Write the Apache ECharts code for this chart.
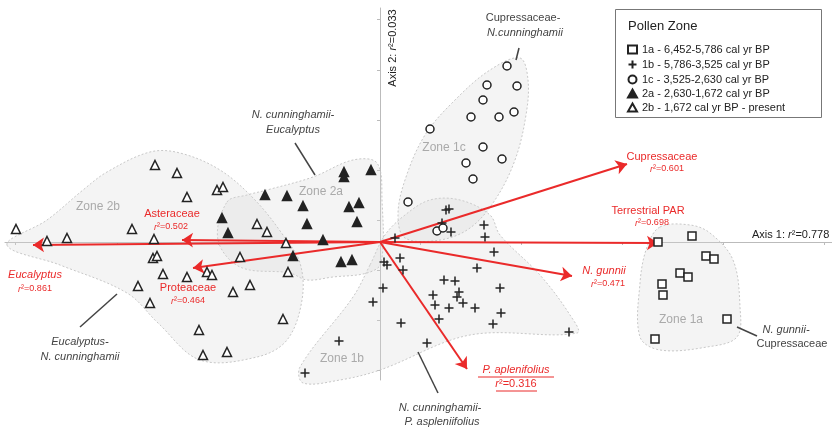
<!DOCTYPE html>
<html>
<head>
<meta charset="utf-8">
<script src="https://cdn.jsdelivr.net/npm/echarts@6/dist/echarts.min.js"></script>
<style>
  html, body { margin: 0; padding: 0; background: #fff; }
  #main { width: 832px; height: 435px; }
</style>
</head>
<body>
<div id="main"></div>
<script>
// ordination scores per pollen zone (axis 1, axis 2)
var zone1a = [[2.78,0],[3.12,0.06],[3.26,-0.14],[3.34,-0.17],[3.00,-0.31],[3.08,-0.35],[2.82,-0.42],[2.83,-0.53],[3.47,-0.77],[2.75,-0.97]];
var zone1b = [[0.66,0.32],[0.69,0.33],[0.62,0.19],[0.71,0.10],[1.04,0.17],[1.05,0.05],[0.15,0.04],[1.14,-0.10],[0.04,-0.20],[0.07,-0.23],
  [0.20,-0.16],[0.23,-0.28],[0.97,-0.26],[0.64,-0.38],[0.75,-0.39],[0.03,-0.46],[-0.07,-0.60],[1.20,-0.46],[0.53,-0.53],[0.55,-0.63],
  [0.79,-0.50],[0.77,-0.55],[0.83,-0.61],[0.69,-0.66],[0.95,-0.66],[1.21,-0.71],[0.59,-0.77],[0.21,-0.81],[1.13,-0.82],[1.89,-0.90],
  [0.47,-1.01],[-0.41,-0.99],[-0.75,-1.31]];
var zone1c = [[1.27,1.76],[1.07,1.57],[1.37,1.56],[1.03,1.42],[0.91,1.25],[1.19,1.25],[1.34,1.30],[0.50,1.13],[1.03,0.95],[0.86,0.79],
  [1.22,0.83],[0.93,0.63],[0.28,0.40],[0.57,0.11],[0.63,0.14]];
var zone2a = [[-1.15,0.47],[-0.93,0.46],[-0.77,0.36],[-0.36,0.70],[-0.36,0.65],[-0.09,0.72],[-0.31,0.35],[-0.21,0.39],[-1.58,0.24],[-0.73,0.18],
  [-0.23,0.20],[-0.57,0.02],[-0.87,-0.14],[-0.39,-0.20],[-0.28,-0.18],[-1.52,0.09]];
var zone2b = [[-2.25,0.77],[-2.03,0.69],[-1.63,0.52],[-1.57,0.55],[-1.93,0.45],[-3.64,0.13],[-3.33,0.01],[-3.13,0.04],[-2.48,0.13],[-2.26,0.03],
  [-1.23,0.18],[-1.13,0.10],[-2.27,-0.16],[-2.23,-0.14],[-1.40,-0.15],[-2.17,-0.32],[-1.93,-0.35],[-1.73,-0.30],[-1.68,-0.33],[-2.42,-0.44],
  [-2.30,-0.61],[-1.47,-0.50],[-1.30,-0.43],[-0.92,-0.30],[-0.94,-0.01],[-0.97,-0.77],[-1.81,-0.88],[-1.77,-1.13],[-1.53,-1.10]];

var zoneNames = ['1a - 6,452-5,786 cal yr BP', '1b - 5,786-3,525 cal yr BP', '1c - 3,525-2,630 cal yr BP',
  '2a - 2,630-1,672 cal yr BP', '2b - 1,672 cal yr BP - present'];

// zone envelopes
var hull1a = [[2.80,0.15],[3.10,0.17],[3.30,0.09],[3.53,-0.18],[3.60,-0.65],[3.57,-0.95],[3.27,-1.05],[2.80,-1.08],[2.60,-0.95],[2.60,-0.41],[2.67,-0.05]];
var hull1b = [[-0.10,-0.23],[-0.27,-0.55],[-0.80,-1.25],[-0.77,-1.41],[-0.40,-1.38],[0,-1.28],[0.90,-0.93],[1.97,-0.91],[1.90,-0.73],[1.60,-0.33],
  [1.20,0.07],[1.10,0.27],[0.80,0.42],[0.50,0.42],[0.25,0.27],[0.05,0.07]];
var hull1c = [[1.40,1.84],[1.48,1.62],[1.46,1.27],[1.35,0.82],[1.15,0.42],[0.90,0.14],[0.60,0.02],[0.25,0.04],[0.18,0.27],[0.25,0.62],[0.45,1.07],[0.75,1.42],[1.10,1.72]];
var hull2a = [[-1.53,0.40],[-1.33,0.47],[-1.13,0.52],[-0.67,0.65],[-0.27,0.82],[-0.03,0.79],[0.02,0.42],[0.01,-0.21],[-0.13,-0.31],[-0.47,-0.35],
  [-0.73,-0.38],[-0.90,-0.31],[-1.40,-0.25],[-1.62,0.02]];
var hull2b = [[-3.73,-0.03],[-3.20,-0.23],[-2.53,-0.51],[-2.22,-0.81],[-1.80,-1.18],[-1.23,-1.15],[-0.93,-0.98],[-0.78,-0.58],[-0.80,-0.21],[-0.97,0.07],
  [-1.25,0.42],[-1.60,0.72],[-2.00,0.89],[-2.30,0.90],[-2.73,0.70],[-2.97,0.52],[-3.33,0.22]];
var hullLabels = ['Zone 1a', 'Zone 1b', 'Zone 1c', 'Zone 2a', 'Zone 2b'];

// biplot vectors
var vectorNames = ['Cupressaceae', 'Terrestrial PAR', 'N. gunnii', 'P. aplenifolius', 'Asteraceae', 'Proteaceae', 'Eucalyptus'];
var vectorEnds = [[2.47,0.78],[2.78,-0.01],[1.92,-0.34],[0.87,-1.27],[-1.98,0.02],[-1.87,-0.26],[-3.47,-0.03]];
var vectorR2 = ['0.601', '0.698', '0.471', '0.316', '0.502', '0.464', '0.861'];

var xTicks = [-3.65,-2.63,-1.62,-0.61,0.40,1.41,2.42,3.43,4.44];
var yTicks = [2.23,1.72,1.22,0.72,0.22,-0.28,-0.78,-1.28];

var RED = '#ea2a2a';
var INK = '#222';
var FONT = '"Liberation Sans", Arial, sans-serif';

var chart = echarts.init(document.getElementById('main'));

var hulls = [hull1a, hull1b, hull1c, hull2a, hull2b];
var crossPath = 'path://M5,0V10M0,5H10';

function pointSeries(name, data, symbol, size, fill) {
  return {
    name: name, type: 'scatter', data: data, symbol: symbol, symbolSize: size,
    z: 5,
    itemStyle: { color: fill, borderColor: INK, borderWidth: 1.5, opacity: 1 },
    emphasis: { disabled: true }
  };
}

function r2(v) { return '{i|r}²=' + v; }

function txt(x, y, text, opt) {
  opt = opt || {};
  return {
    type: 'text', x: x, y: y, z: 20, rotation: opt.rot || 0,
    style: {
      text: text, fill: opt.color || '#333', fontSize: opt.size || 11, fontFamily: FONT,
      fontStyle: opt.italic ? 'italic' : 'normal', fontWeight: opt.bold ? 'bold' : 'normal',
      align: opt.align || 'center', verticalAlign: 'middle',
      rich: { i: { fontStyle: 'italic', fontSize: opt.size || 11, fontFamily: FONT, fill: opt.color || '#333' } }
    }
  };
}
function seg(x1, y1, x2, y2, color, w) {
  return { type: 'line', z: 20, shape: { x1: x1, y1: y1, x2: x2, y2: y2 }, style: { stroke: color || '#333', lineWidth: w || 1.5 } };
}

var graphics = [
  // legend box
  { type: 'rect', z: 15, shape: { x: 615.5, y: 9.5, width: 206, height: 108 }, style: { fill: '#fff', stroke: '#777', lineWidth: 1 } },
  txt(628, 26, 'Pollen Zone', { size: 13, align: 'left', color: '#222' }),

  // axis titles
  txt(752, 235, 'Axis 1: {i|r}²=0.778', { align: 'left', color: '#222' }),
  txt(393, 48, 'Axis 2: {i|r}²=0.033', { rot: Math.PI / 2, color: '#222' }),

  // zone labels
  txt(681, 320, hullLabels[0], { size: 12, color: '#aaa' }),
  txt(342, 359, hullLabels[1], { size: 12, color: '#aaa' }),
  txt(444, 148, hullLabels[2], { size: 12, color: '#aaa' }),
  txt(321, 192, hullLabels[3], { size: 12, color: '#aaa' }),
  txt(98, 207, hullLabels[4], { size: 12, color: '#aaa' }),

  // vector labels
  txt(662, 157, vectorNames[0], { color: RED }),
  txt(667, 169, r2(vectorR2[0]), { color: RED, size: 9 }),
  txt(648, 211, vectorNames[1], { color: RED }),
  txt(652, 223, r2(vectorR2[1]), { color: RED, size: 9 }),
  txt(604, 271, vectorNames[2], { color: RED, italic: true }),
  txt(608, 284, r2(vectorR2[2]), { color: RED, size: 9 }),
  txt(516, 370, vectorNames[3], { color: RED, italic: true }),
  txt(516, 384, r2(vectorR2[3]), { color: RED }),
  seg(478, 377, 554, 377, RED, 1),
  seg(496, 391, 537, 391, RED, 1),
  txt(172, 214, vectorNames[4], { color: RED }),
  txt(171, 227, r2(vectorR2[4]), { color: RED, size: 9 }),
  txt(188, 288, vectorNames[5], { color: RED }),
  txt(188, 301, r2(vectorR2[5]), { color: RED, size: 9 }),
  txt(35, 275, vectorNames[6], { color: RED, italic: true }),
  txt(35, 289, r2(vectorR2[6]), { color: RED, size: 9 }),

  // assemblage annotations
  txt(293, 115, 'N. cunninghamii-', { italic: true, color: '#444' }),
  txt(293, 130, 'Eucalyptus', { italic: true, color: '#444' }),
  seg(295, 143, 315, 175, '#444'),
  txt(523, 18, 'Cupressaceae-', { color: '#444' }),
  txt(525, 33, 'N.cunninghamii', { italic: true, color: '#444' }),
  seg(519, 48, 516, 60, '#444'),
  txt(80, 342, 'Eucalyptus-', { italic: true, color: '#444' }),
  txt(80, 357, 'N. cunninghamii', { italic: true, color: '#444' }),
  seg(80, 327, 117, 294, '#444'),
  txt(440, 408, 'N. cunninghamii-', { italic: true, color: '#444' }),
  txt(442, 422, 'P. aspleniifolius', { italic: true, color: '#444' }),
  seg(418, 352, 438, 393, '#444'),
  txt(786, 330, 'N. gunnii-', { italic: true, color: '#444' }),
  txt(792, 344, 'Cupressaceae', { color: '#444' }),
  seg(737, 327, 757, 336, '#444')
];

var option = {
  animation: false,
  backgroundColor: '#fff',
  textStyle: { fontFamily: FONT },
  grid: { left: 5, right: 0, top: 8, bottom: 55 },
  xAxis: {
    type: 'value', min: -3.75, max: 4.52,
    axisLine: { onZero: true, lineStyle: { color: '#bbb', width: 1 } },
    axisTick: { show: true, customValues: xTicks, length: 3, lineStyle: { color: '#bbb' } },
    axisLabel: { show: false }, splitLine: { show: false }
  },
  yAxis: {
    type: 'value', min: -1.38, max: 2.34,
    axisLine: { onZero: true, lineStyle: { color: '#bbb', width: 1 } },
    axisTick: { show: true, customValues: yTicks, length: 3, lineStyle: { color: '#bbb' } },
    axisLabel: { show: false }, splitLine: { show: false }
  },
  legend: {
    orient: 'vertical', left: 626, top: 44, padding: 0, itemGap: 3, itemWidth: 9, itemHeight: 8,
    textStyle: { fontSize: 11, color: '#222', fontFamily: FONT },
    data: zoneNames, z: 16
  },
  graphic: graphics,
  series: [
    {
      type: 'custom', z: 1, silent: true,
      data: hulls.map(function (h, i) { return [i]; }),
      renderItem: function (params, api) {
        var pts = hulls[api.value(0)].map(function (p) { return api.coord(p); });
        return {
          type: 'polygon', shape: { points: pts, smooth: 0.35 },
          style: { fill: 'rgba(215,215,215,0.28)', stroke: '#c8c8c8', lineWidth: 1, lineDash: [2, 2] }
        };
      }
    },
    {
      type: 'lines', coordinateSystem: 'cartesian2d', z: 4, silent: true,
      symbol: ['none', 'arrow'], symbolSize: 11,
      lineStyle: { color: RED, width: 2, opacity: 1 },
      data: vectorEnds.map(function (e) { return { coords: [[0, 0], e] }; })
    },
    pointSeries(zoneNames[0], zone1a, 'rect', 8, '#fff'),
    pointSeries(zoneNames[1], zone1b, crossPath, 9, 'none'),
    pointSeries(zoneNames[2], zone1c, 'circle', 8, '#fff'),
    pointSeries(zoneNames[3], zone2a, 'triangle', 9, INK),
    pointSeries(zoneNames[4], zone2b, 'triangle', 9, '#fff')
  ]
};
chart.setOption(option);
</script>
</body>
</html>
